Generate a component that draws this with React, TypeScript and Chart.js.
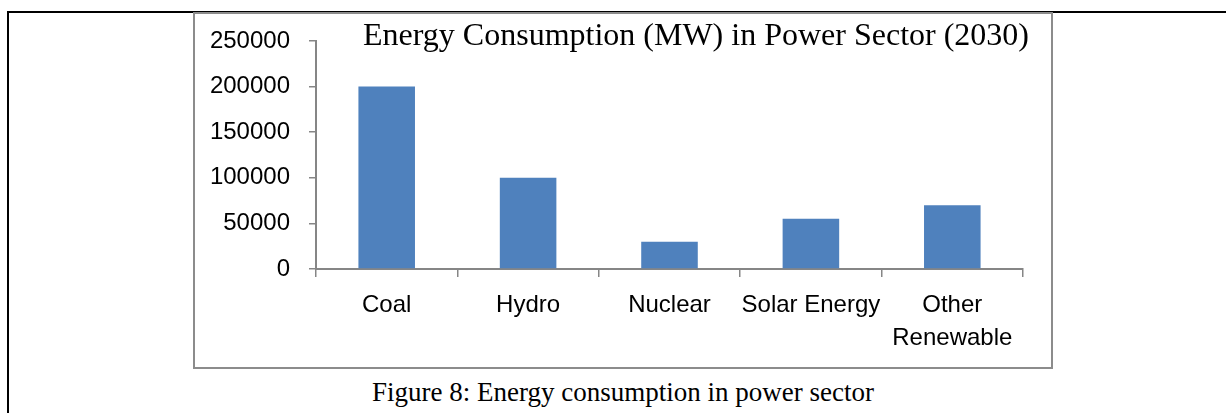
import React, { useEffect, useRef } from "react";
import { Chart, registerables } from "chart.js";

Chart.register(...registerables);

const chartTitle = "Energy Consumption (MW) in Power Sector (2030)";
const figureCaption = "Figure 8: Energy consumption in power sector";
const categories: (string | string[])[] = ["Coal", "Hydro", "Nuclear", "Solar Energy", ["Other", "Renewable"]];
const consumptionMW = [200000, 100000, 30000, 55000, 70000];
const yMin = 0;
const yMax = 250000;
const yStep = 50000;

const AXIS_GREY = "#868686";
const BAR_BLUE = "#4F81BD";
const SANS = '"Liberation Sans", Arial, sans-serif';
const SERIF = '"Liberation Serif", "Times New Roman", serif';

const overlayTitle = {
  id: "overlayTitle",
  afterDraw(chart: any) {
    const { ctx, chartArea } = chart;
    ctx.save();
    ctx.font = `32px ${SERIF}`;
    ctx.fillStyle = "#000";
    ctx.textAlign = "left";
    ctx.textBaseline = "alphabetic";
    ctx.fillText(chartTitle, chartArea.left + 47, chartArea.top + 4);
    ctx.restore();
  },
};

export default function App() {
  const canvasRef = useRef<HTMLCanvasElement | null>(null);

  useEffect(() => {
    if (!canvasRef.current) return;
    const chart = new Chart(canvasRef.current, {
      type: "bar",
      data: {
        labels: categories as any,
        datasets: [
          {
            data: consumptionMW,
            backgroundColor: BAR_BLUE,
            borderWidth: 0,
            barPercentage: 0.4,
            categoryPercentage: 1,
          },
        ],
      },
      options: {
        animation: false,
        responsive: false,
        devicePixelRatio: 1,
        layout: { padding: { left: 0, right: 29, top: 29, bottom: 0 } },
        plugins: {
          legend: { display: false },
          tooltip: { enabled: false },
          title: { display: false },
        },
        scales: {
          x: {
            offset: true,
            afterFit: (s: any) => {
              s.height = 99;
              s.paddingLeft = 0;
              s.paddingRight = 0;
            },
            grid: {
              offset: true,
              drawOnChartArea: false,
              drawTicks: true,
              tickLength: 8,
              color: AXIS_GREY,
              lineWidth: 1.5,
            },
            border: { display: true, color: AXIS_GREY, width: 2 },
            ticks: {
              color: "#000",
              font: { family: SANS, size: 24, lineHeight: 1.36 },
              padding: 12,
              maxRotation: 0,
              autoSkip: false,
            },
          },
          y: {
            min: yMin,
            max: yMax,
            afterFit: (s: any) => {
              s.width = 123;
              s.paddingTop = 0;
              s.paddingBottom = 0;
            },
            grid: {
              drawOnChartArea: false,
              drawTicks: true,
              tickLength: 7,
              color: AXIS_GREY,
              lineWidth: 1.5,
            },
            border: { display: true, color: AXIS_GREY, width: 2 },
            ticks: {
              stepSize: yStep,
              color: "#000",
              font: { family: SANS, size: 24 },
              padding: 19,
              callback: (v: any) => String(v),
            },
          },
        },
      },
      plugins: [overlayTitle],
    });
    return () => chart.destroy();
  }, []);

  return (
    <div style={{ position: "fixed", left: 0, top: 0, width: 1226, height: 413, background: "#fff", overflow: "hidden" }}>
      <div
        style={{
          position: "absolute",
          left: 7,
          top: 11,
          width: 1240,
          height: 420,
          borderLeft: "2px solid #000",
          borderTop: "2px solid #000",
          boxSizing: "border-box",
        }}
      />
      <div
        style={{
          position: "absolute",
          left: 193,
          top: 12,
          width: 860,
          height: 357,
          border: "2px solid #8c8c8c",
          boxSizing: "border-box",
          background: "#fff",
        }}
      />
      <canvas
        ref={canvasRef}
        width={859}
        height={356}
        style={{ position: "absolute", left: 193, top: 12, width: 859, height: 356 }}
      />
      <div
        style={{
          position: "absolute",
          left: 193,
          top: 374,
          width: 860,
          textAlign: "center",
          fontFamily: SERIF,
          fontSize: 27,
          lineHeight: "36px",
          color: "#000",
          whiteSpace: "nowrap",
        }}
      >
        {figureCaption}
      </div>
    </div>
  );
}
